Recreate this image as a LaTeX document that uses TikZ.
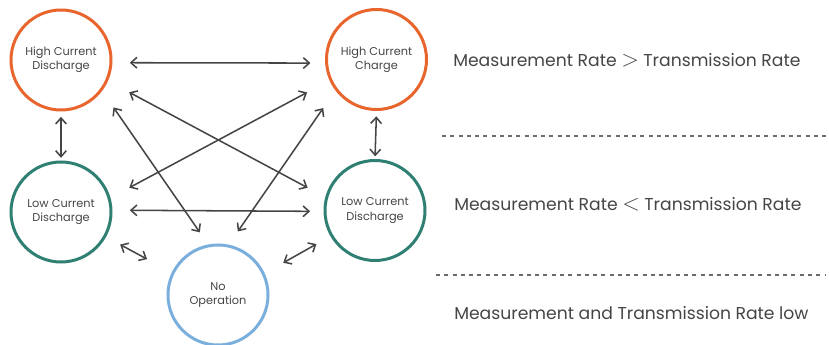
\documentclass[tikz,border=0pt]{standalone}
\usepackage{fontspec}
\setmainfont{Poppins}
\usetikzlibrary{arrows.meta}

\definecolor{hotorange}{HTML}{E8662E}
\definecolor{lowteal}{HTML}{2F7F73}
\definecolor{idleblue}{HTML}{7AAEDC}
\definecolor{inkgray}{HTML}{454545}

\newcommand{\bigrel}[1]{{\fontsize{17}{17}\selectfont$#1$}}

\begin{document}
\begin{tikzpicture}[
    x=0.75pt, y=-0.75pt,
    >={Straight Barb[length=4.5pt,width=8pt]},
    state/.style={circle, draw, line width=2.25pt, minimum size=75pt, inner sep=0pt, align=center, text=inkgray, font=\fontsize{8.5}{10.8}\selectfont},
    link/.style 2 args={<->, draw=inkgray, line width=1.15pt, shorten <=#1, shorten >=#2},
    rate/.style={anchor=west, inner sep=0pt, text=inkgray, font=\fontsize{12.9}{15}\selectfont},
    sep/.style={draw=inkgray!80, line width=1.1pt, dash pattern=on 3pt off 3.2pt}
  ]
    \useasboundingbox (0,0) rectangle (829,345);

    % states
    \node[state, draw=hotorange] (highdis) at (61,60) {High Current\\Discharge};
    \node[state, draw=hotorange] (highchg) at (376.5,59.5) {High Current\\Charge};
    \node[state, draw=lowteal] (lowleft) at (61,212) {Low Current\\Discharge};
    \node[state, draw=lowteal] (lowright) at (375,210.5) {Low Current\\Discharge};
    \node[state, draw=idleblue] (idle) at (218,295) {No\\Operation};

    % transitions
    \draw[link={13pt}{11pt}] (highdis.-3.5) -- (highchg.184);
    \draw[link={4pt}{2pt}] (highdis.-90) -- (lowleft.90);
    \draw[link={4pt}{2pt}] (highchg.-90) -- (lowright.90);
    \draw[link={13pt}{10pt}] (lowleft.2.8) -- (lowright.181);
    \draw[link={18pt}{15pt}] (highdis.-24) -- (lowright.165);
    \draw[link={19pt}{16pt}] (highchg.204) -- (lowleft.16.7);
    \draw[link={15pt}{11pt}] (highdis.-37.7) -- (idle.101.3);
    \draw[link={16pt}{12pt}] (highchg.217.7) -- (idle.78);
    \draw[link={12pt}{21pt}] (lowleft.-29.2) -- (idle.154);
    \draw[link={12pt}{16pt}] (lowright.210.7) -- (idle.25.9);

    % rate bands
    \node[rate] (fast) at (453,60) {Measurement Rate \bigrel{>} Transmission Rate};
    \node[rate] (slow) at (454,204) {Measurement Rate \bigrel{<} Transmission Rate};
    \node[rate] (low) at (454,313) {Measurement and Transmission Rate low};
    \draw[sep] (442,136) -- (829,136);
    \draw[sep] (436,275) -- (826,275);
\end{tikzpicture}
\end{document}
